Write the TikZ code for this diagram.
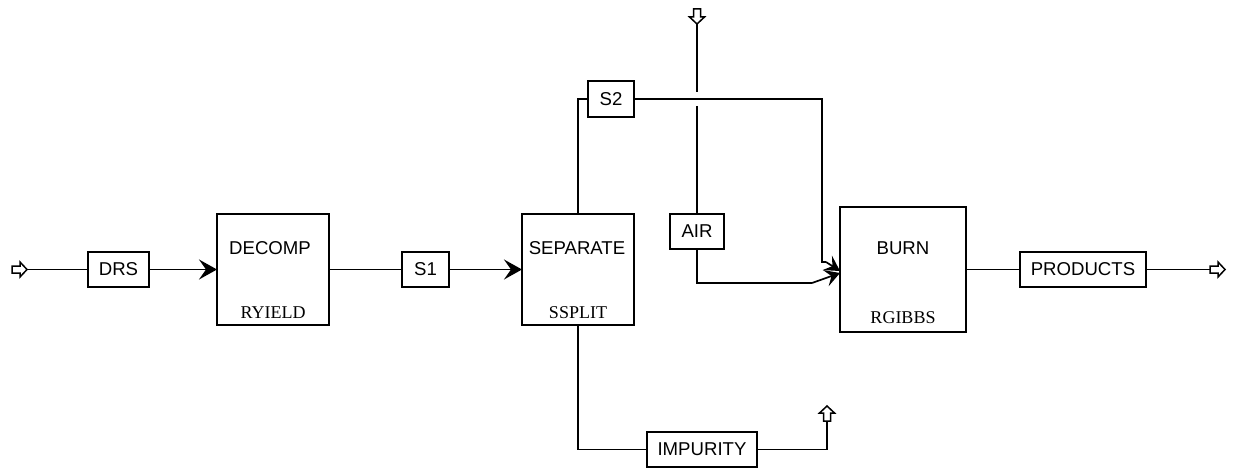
\documentclass[tikz,border=0pt]{standalone}
\usepackage{fontspec}
\setmainfont{Liberation Sans}
\newfontfamily\modfont{Liberation Serif}
\usetikzlibrary{arrows.meta,calc}
\begin{document}
\begin{tikzpicture}[x=1pt,y=-1pt,
  every node/.style={inner sep=0pt,outer sep=0pt},
  wire/.style={line width=1.7pt},
  strm/.style={draw,line width=1.7pt,fill=white,font=\fontsize{18.6}{20}\selectfont},
  unitbox/.style={draw,line width=1.7pt},
  utext/.style={font=\fontsize{18.6}{20}\selectfont},
  mtext/.style={font=\modfont\fontsize{18}{19}\selectfont},
  feed/.style={-{Stealth[length=18pt,width=20pt,inset=7pt]}},
  feedsmall/.style={-{Stealth[length=15pt,width=17pt,inset=6pt]}},
  blockarrow/.pic={\draw[fill=white,line width=1.5pt,line join=miter] (0,0) -- (-7,-7.5) -- (-7,-3.5) -- (-15,-3.5) -- (-15,3.5) -- (-7,3.5) -- (-7,7.5) -- cycle;}
]
\useasboundingbox (0,0) rectangle (1237,468);

% unit blocks
\node[unitbox,minimum width=112pt,minimum height=111pt] (decomp) at (273,269.5) {};
\node[utext] (decompt) at (270,248) {DECOMP};
\node[mtext] (decompm) at (273,313) {RYIELD};

\node[unitbox,minimum width=112pt,minimum height=111pt] (sep) at (578,269.5) {};
\node[utext] (sept) at (577,248) {SEPARATE};
\node[mtext] (sepm) at (578,313) {SSPLIT};

\node[unitbox,minimum width=126pt,minimum height=125pt] (burn) at (903,269.5) {};
\node[utext] (burnt) at (903,248) {BURN};
\node[mtext] (burnm) at (903,318) {RGIBBS};

% stream labels
\node[strm,minimum width=61pt,minimum height=35pt] (drs) at (118.5,269.5) {DRS};
\node[strm,minimum width=47pt,minimum height=35pt] (s1) at (425.5,269.5) {S1};
\node[strm,minimum width=46pt,minimum height=36pt] (s2) at (611,99) {S2};
\node[strm,minimum width=54pt,minimum height=35pt] (air) at (697,231.5) {AIR};
\node[strm,minimum width=126pt,minimum height=35pt] (prod) at (1083,269.5) {PRODUCTS};
\node[strm,minimum width=110pt,minimum height=35pt] (imp) at (702,449.5) {IMPURITY};

% coordinates
\coordinate (drsin) at (27,269.5);
\coordinate (airin) at (697,24);
\coordinate (airgapa) at (697,92);
\coordinate (airgapb) at (697,106);
\coordinate (prodout) at (1210,269.5);
\coordinate (prodtip) at (1225,269.5);
\coordinate (impout) at (827,421);
\coordinate (imptip) at (827,406);
\coordinate (s2down) at (822,262);
\coordinate (s2kink) at (826,262);
\coordinate (s2tip) at (840,271);
\coordinate (aircorner) at (697,283);
\coordinate (airkink) at (812,283);
\coordinate (airtip) at (840,273);

% block arrows
\pic at (drsin) {blockarrow};
\pic[rotate=-90] at (airin) {blockarrow};
\pic at (prodtip) {blockarrow};
\pic[rotate=90] at (imptip) {blockarrow};

% connectors
\draw[wire] (drsin) -- (drs.west);
\draw[wire,feed] (drs.east) -- (decomp.west);
\draw[wire] (decomp.east) -- (s1.west);
\draw[wire,feed] (s1.east) -- (sep.west);
\draw[wire] (sep.north) |- (s2.west);
\draw[wire] (s2.east) -| (s2down) -- (s2kink);
\draw[wire,feedsmall] (s2kink) -- (s2tip);
\draw[wire] (airin) -- (airgapa);
\draw[wire] (airgapb) -- (air.north);
\draw[wire] (air.south) -- (aircorner) -- (airkink);
\draw[wire,feedsmall] (airkink) -- (airtip);
\draw[wire] (burn.east) -- (prod.west);
\draw[wire] (prod.east) -- (prodout);
\draw[wire] (sep.south) |- (imp.west);
\draw[wire] (imp.east) -| (impout);
\end{tikzpicture}
\end{document}
